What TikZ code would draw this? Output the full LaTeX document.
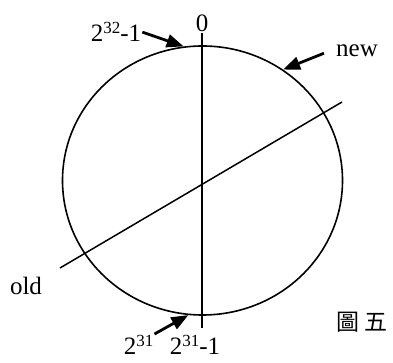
\documentclass[tikz,border=0pt]{standalone}
\usepackage{fontspec}
\setmainfont{Liberation Serif}
\newfontfamily\cjk{Noto Sans CJK TC}
\usetikzlibrary{arrows.meta, shapes.geometric}
\newcommand{\powsup}[1]{\raisebox{8.5pt}{\fontsize{17}{17}\selectfont #1}}

\begin{document}
\begin{tikzpicture}[
    x=1pt, y=1pt,
    % Styles
    ring/.style={ellipse, draw=black, line width=1.6pt, minimum width=280pt, minimum height=269pt, inner sep=0pt},
    tag/.style={inner sep=1pt, font=\fontsize{25}{28}\selectfont},
    axis/.style={line width=1.5pt, black},
    pointer/.style={-{Triangle[length=17pt, width=13pt]}, line width=2.8pt, black}
]
\useasboundingbox (0,0) rectangle (393,363);

% ==================== RING ====================
\node[ring] (ring) at (202.5,182.5) {};

% ==================== AXES ====================
\node[tag, anchor=base] (zero) at (202,331) {0};
\coordinate (axisend) at (202,35);
\draw[axis] (zero.south) -- (axisend);

\coordinate (oldend) at (60,95);
\coordinate (newend) at (342,261);
\draw[axis] (oldend) -- (newend);

% ==================== LABELS ====================
\node[tag, anchor=base] (top) at (116,321) {2\powsup{32}-1};
\node[tag, anchor=base] (new) at (357,306) {new};
\node[tag, anchor=base] (old) at (26,68) {old};
\node[tag, anchor=base] (half) at (138.5,8) {2\powsup{31}};
\node[tag, anchor=base] (halfm) at (195,8) {2\powsup{31}-1};
\node[font=\cjk\fontsize{23}{26}\selectfont] (fig) at (362,40.5) {圖\hspace{5pt}五};

% ==================== POINTERS ====================
\draw[pointer] (top.east) -- (ring.98);
\draw[pointer] ([xshift=-11pt, yshift=-2pt]new.west) -- (ring.54.5);
\draw[pointer] (half.north east) -- (ring.264);

\end{tikzpicture}
\end{document}
